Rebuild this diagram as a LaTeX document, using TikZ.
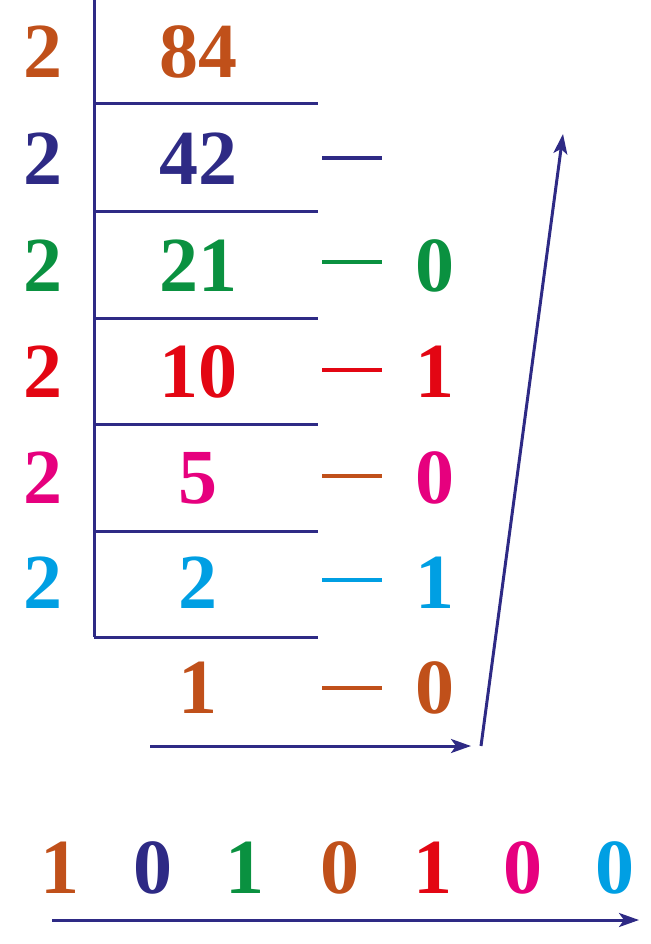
\documentclass[tikz,border=0pt]{standalone}
\usepackage{fontspec}
\setmainfont{Liberation Serif}
\usetikzlibrary{arrows.meta}
\definecolor{cbr}{HTML}{C0501A}
\definecolor{cbl}{HTML}{2E2A85}
\definecolor{cgr}{HTML}{0A9140}
\definecolor{crd}{HTML}{E30613}
\definecolor{cmg}{HTML}{E6007E}
\definecolor{ccy}{HTML}{009FE3}
\begin{document}
\begin{tikzpicture}[x=1pt,y=-1pt,
  dig/.style={font=\fontsize{78}{78}\selectfont\bfseries, inner sep=0pt, anchor=base},
  rule/.style={cbl, line width=3pt},
  dsh/.style={line width=4.5pt},
  arr/.style={cbl, line width=3pt, -{Stealth[length=20pt,width=14pt,inset=5pt]}}]
\useasboundingbox (0,0) rectangle (650,944);
% divisors
\foreach \y/\c [count=\i] in {78/cbr,185/cbl,291/cgr,397/crd,503/cmg,608/ccy}
  \node[dig, text=\c] (d\i) at (43,\y) {2};
% quotients
\foreach \y/\c/\t [count=\i] in {78/cbr/84,185/cbl/42,291/cgr/21,397/crd/10,503/cmg/5,608/ccy/2,713/cbr/1}
  \node[dig, text=\c] (q\i) at (198,\y) {\t};
% lines
\coordinate (vt) at (94,0); \coordinate (vb) at (94,637);
\draw[rule] (vt) -- (vb);
\foreach \y [count=\i] in {104,211,318,424,531,637}{
  \coordinate (ha\i) at (94,\y); \coordinate (hb\i) at (318,\y);
  \draw[rule] (ha\i) -- (hb\i);}
% dashes
\foreach \y/\c [count=\i] in {158/cbl,262/cgr,370/crd,476/cbr,580/ccy,688/cbr}{
  \coordinate (da\i) at (322,\y); \coordinate (db\i) at (382,\y);
  \draw[dsh,\c] (da\i) -- (db\i);}
% remainders
\foreach \y/\c/\t [count=\i] in {291/cgr/0,397/crd/1,503/cmg/0,608/ccy/1,713/cbr/0}
  \node[dig, text=\c] (r\i) at (435,\y) {\t};
% arrows
\coordinate (a1) at (150,746); \coordinate (a2) at (471,746);
\coordinate (a3) at (481,746); \coordinate (a4) at (563,134);
\draw[arr] (a1) -- (a2);
\draw[arr] (a3) -- (a4);
% result
\foreach \x/\c/\t [count=\i] in {60/cbr/1,153/cbl/0,245/cgr/1,340/cbr/0,433/crd/1,523/cmg/0,615/ccy/0}
  \node[dig, text=\c] (b\i) at (\x,893) {\t};
\coordinate (c1) at (52,920); \coordinate (c2) at (639,920);
\draw[arr] (c1) -- (c2);
\end{tikzpicture}
\end{document}
